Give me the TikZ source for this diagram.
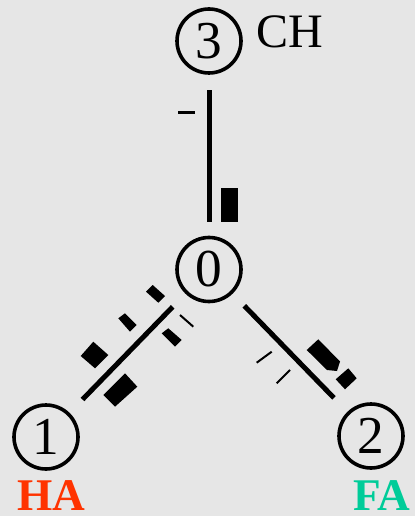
\documentclass[tikz,border=0pt]{standalone}
\usepackage{fontspec}
\setmainfont{Liberation Serif}
\definecolor{bg}{RGB}{230,230,230}
\definecolor{hacol}{RGB}{255,51,0}
\definecolor{facol}{RGB}{0,204,153}
\begin{document}
\begin{tikzpicture}[x=0.75pt,y=-0.75pt,
  atom/.style={circle,draw,line width=2.7pt,minimum size=48pt,inner sep=0pt,font=\fontsize{40}{40}\selectfont},
  bond/.style={line width=3.75pt},
  tickmark/.style={line width=1.5pt},
  blob/.style={fill=black},
  lbl/.style={inner sep=0pt,anchor=base west,font=\fontsize{36}{36}\selectfont},
  tag/.style={inner sep=0pt,anchor=base west,font=\fontsize{34}{34}\selectfont\bfseries}]
\fill[bg] (0,0) rectangle (415,516);
\useasboundingbox (0,0) rectangle (415,516);
% atoms
\node[atom] (n3) at (209,41) {3};
\node[atom] (n0) at (209,269.5) {0};
\node[atom] (n1) at (46,437) {1};
\node[atom] (n2) at (371,436) {2};
% labels
\node[lbl] (ch) at (256,48) {CH};
\node[tag,text=hacol] (ha) at (17,510.5) {HA};
\node[tag,text=facol] (fa) at (353,510.5) {FA};
% bonds
\draw[bond,shorten <=11.6pt,shorten >=10.5pt] (n3) -- (n0);
\draw[bond,shorten <=13.7pt,shorten >=13.9pt] (n0) -- (n1);
\draw[bond,shorten <=12.6pt,shorten >=14.5pt] (n0) -- (n2);
% marks on bond 3-0
\draw[line width=2.25pt] (178,113) -- (195,113);
\fill[blob] (221,188) rectangle (238,222);
% marks on bond 0-1
\fill[blob] (146,291.7) -- (152.7,285) -- (165,296) -- (158.3,302.7) -- cycle;
\fill[blob] (118.3,318.3) -- (125,313.3) -- (136.7,325) -- (130,331.7) -- cycle;
\fill[blob] (80.7,356) -- (93.3,341.7) -- (108.3,355) -- (95,368.3) -- cycle;
\fill[blob] (161.7,333.3) -- (168.3,328.3) -- (181.7,340) -- (175,346.7) -- cycle;
\fill[blob] (103.3,395) -- (125,373.3) -- (137.3,386.7) -- (115,406.7) -- cycle;
\draw[tickmark] (180,315) -- (193.3,326.7);
% marks on bond 0-2
\draw[tickmark] (256.7,362.7) -- (271.7,351.7);
\draw[tickmark] (276.7,383.3) -- (290,370);
\fill[blob] (306.7,350) -- (318.3,339.3) -- (340,361.5) -- (337,371) -- (327,370) -- cycle;
\fill[blob] (335.7,379.3) -- (348.3,368.3) -- (356.7,378.3) -- (345,389.3) -- cycle;
\end{tikzpicture}
\end{document}
